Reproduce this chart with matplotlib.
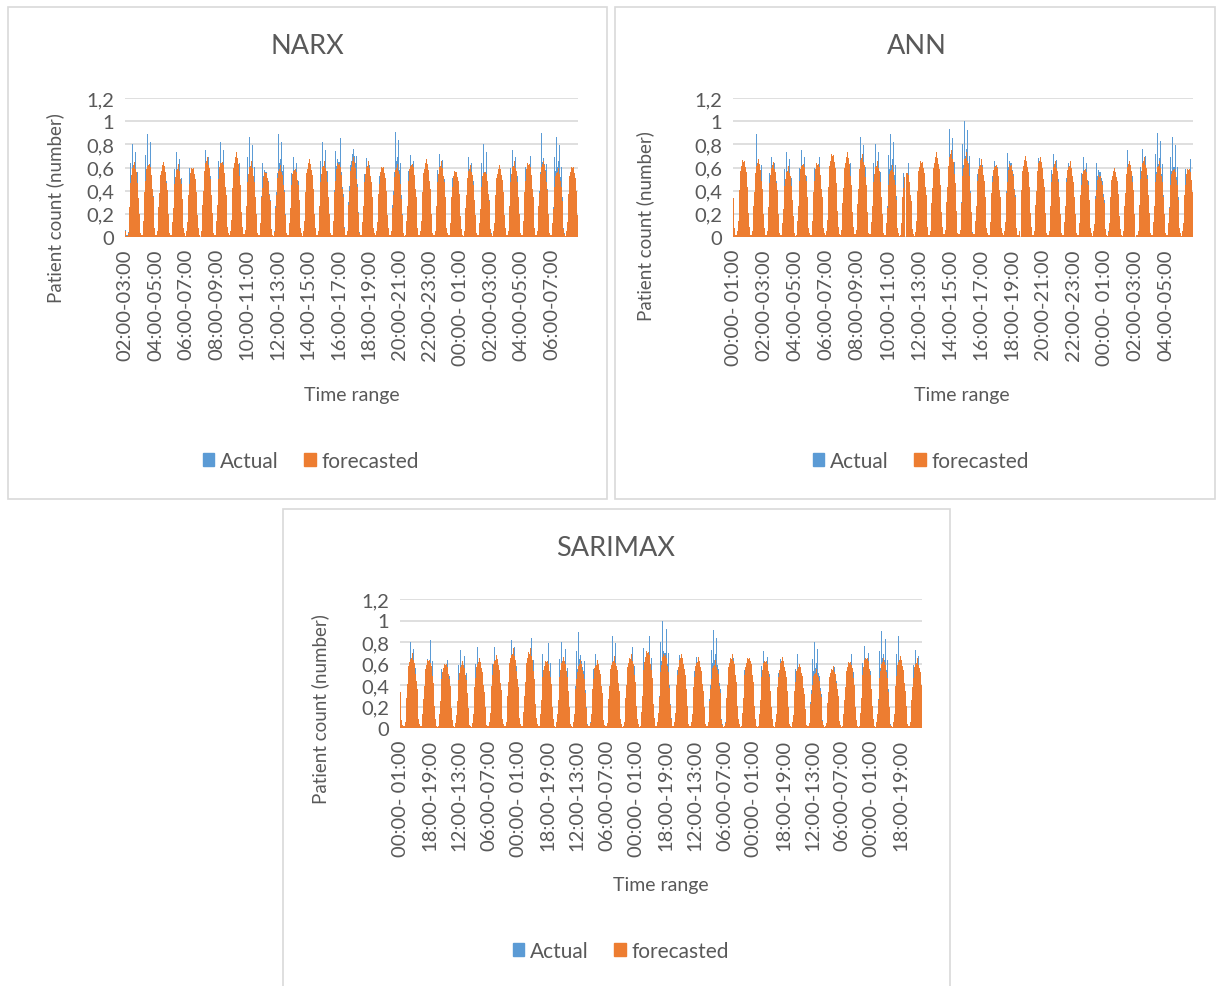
import numpy as np
import matplotlib.pyplot as plt
from matplotlib.patches import Rectangle, Patch

plt.rcParams['font.family'] = ['Lato', 'DejaVu Sans']

W, H = 1216, 987
N_HOURS = 744
TXT = '#595959'
BLUE = '#5B9BD5'
ORANGE = '#ED7D31'

# shape of one daily hump, hour 08:00 first (fraction of that day's max)
shape_forecast = [0.20, 0.40, 0.58, 0.72, 0.82, 0.88, 0.92, 0.95, 0.93, 1.00, 0.94, 0.90,
                  0.86, 0.80, 0.72, 0.62, 0.52, 0.30, 0.12, 0.05, 0.03, 0.02, 0.03, 0.08]
shape_actual = [0.14, 0.30, 0.44, 0.80, 0.62, 0.66, 1.00, 0.72, 0.70, 0.76, 0.70, 0.92,
                0.64, 0.60, 0.70, 0.46, 0.40, 0.22, 0.09, 0.04, 0.02, 0.01, 0.02, 0.06]

# daily max (first entry = partial day before the first 08:00)
actual_peaks = [0.66, 0.80, 0.89, 0.69, 0.73, 0.75, 0.75, 0.82, 0.91, 0.86, 0.80, 0.89,
                0.69, 0.86, 0.82, 0.93, 1.00, 0.68, 0.66, 0.91, 0.71, 0.68, 0.72, 0.64,
                0.69, 0.80, 0.62, 0.75, 0.76, 0.90, 0.86, 0.73]
narx_peaks = [0.40, 0.65, 0.67, 0.65, 0.63, 0.63, 0.69, 0.69, 0.73, 0.66, 0.59, 0.62,
              0.62, 0.67, 0.66, 0.67, 0.69, 0.66, 0.64, 0.63, 0.67, 0.67, 0.66, 0.60,
              0.62, 0.60, 0.62, 0.66, 0.67, 0.66, 0.60, 0.64]
ann_peaks = [0.65, 0.70, 0.67, 0.65, 0.61, 0.67, 0.67, 0.75, 0.73, 0.72, 0.66, 0.62,
             0.59, 0.69, 0.73, 0.75, 0.73, 0.67, 0.66, 0.66, 0.70, 0.69, 0.66, 0.66,
             0.62, 0.56, 0.60, 0.66, 0.69, 0.66, 0.62, 0.62]
sarimax_peaks = [0.65, 0.70, 0.67, 0.63, 0.62, 0.65, 0.68, 0.74, 0.74, 0.66, 0.66, 0.63,
                 0.63, 0.67, 0.69, 0.75, 0.72, 0.69, 0.66, 0.63, 0.69, 0.69, 0.66, 0.66,
                 0.60, 0.55, 0.58, 0.65, 0.69, 0.65, 0.67, 0.65]

narx_ticks = ["02:00-03:00", "04:00-05:00", "06:00-07:00", "08:00-09:00", "10:00-11:00",
              "12:00-13:00", "14:00-15:00", "16:00-17:00", "18:00-19:00", "20:00-21:00",
              "22:00-23:00", "00:00- 01:00", "02:00-03:00", "04:00-05:00", "06:00-07:00"]
ann_ticks = ["00:00- 01:00", "02:00-03:00", "04:00-05:00", "06:00-07:00", "08:00-09:00",
             "10:00-11:00", "12:00-13:00", "14:00-15:00", "16:00-17:00", "18:00-19:00",
             "20:00-21:00", "22:00-23:00", "00:00- 01:00", "02:00-03:00", "04:00-05:00"]
sarimax_ticks = ["00:00- 01:00", "18:00-19:00", "12:00-13:00", "06:00-07:00"] * 4 + \
                ["00:00- 01:00", "18:00-19:00"]

yticks = [0, 0.2, 0.4, 0.6, 0.8, 1.0, 1.2]
ylabels = ["0", "0,2", "0,4", "0,6", "0,8", "1", "1,2"]


def build(peaks, shape, start_hour):
    k = np.arange(N_HOURS) + start_hour - 8
    return np.array(peaks)[k // 24 + 1] * np.array(shape)[k % 24]


def fx(x):
    return x / W


def fy(y):
    return 1 - y / H


def panel(fig, box, area, title, title_xy, ylab_xy, xlab_xy, leg_xy,
          fc_peaks, start_hour, ticks, step):
    x0, y0, x1, y1 = box
    fig.patches.append(Rectangle((fx(x0), fy(y1)), fx(x1 - x0), (y1 - y0) / H,
                                 transform=fig.transFigure, fill=False,
                                 edgecolor='#d9d9d9', lw=1.2))
    l, t, r, b = area
    ax = fig.add_axes([fx(l), fy(b), fx(r - l), (b - t) / H])
    idx = np.arange(N_HOURS)
    act = build(actual_peaks, shape_actual, start_hour)
    fc = build(fc_peaks, shape_forecast, start_hour)
    ax.bar(idx, act, width=1.0, color=BLUE, linewidth=0, zorder=2)
    ax.bar(idx, fc, width=1.0, color=ORANGE, linewidth=0, zorder=3)
    ax.set_xlim(-0.5, N_HOURS - 0.5)
    ax.set_ylim(0, 1.2)
    ax.set_yticks(yticks)
    ax.set_yticklabels(ylabels, fontsize=14.5, color=TXT)
    ax.set_xticks(np.arange(len(ticks)) * step)
    ax.set_xticklabels(ticks, rotation=90, fontsize=14.5, color=TXT)
    ax.tick_params(length=0, pad=8)
    ax.grid(axis='y', color='#d9d9d9', lw=1.2, zorder=0)
    for s in ax.spines.values():
        s.set_visible(False)
    fig.text(fx(title_xy[0]), fy(title_xy[1]), title, fontsize=19.5, color=TXT,
             ha='center', va='center')
    fig.text(fx(ylab_xy[0]), fy(ylab_xy[1]), "Patient count (number)", fontsize=13.5,
             color=TXT, rotation=90, ha='center', va='center')
    fig.text(fx(xlab_xy[0]), fy(xlab_xy[1]), "Time range", fontsize=14, color=TXT,
             ha='center', va='center')
    handles = [Patch(color=BLUE, label='Actual'), Patch(color=ORANGE, label='forecasted')]
    fig.legend(handles=handles, loc='center', bbox_to_anchor=(fx(leg_xy[0]), fy(leg_xy[1])),
               ncol=2, frameon=False, fontsize=15, handlelength=0.55, handleheight=0.55,
               handletextpad=0.3, columnspacing=1.2, labelcolor=TXT)
    return ax


fig = plt.figure(figsize=(W / 100, H / 100), dpi=100)

panel(fig, (8, 8, 607, 500), (125, 99, 578, 238), "NARX", (307, 47), (55, 208),
      (352, 396), (311, 462), narx_peaks, 2, narx_ticks, 50)
panel(fig, (615, 8, 1215, 500), (733, 99, 1193, 238), "ANN", (917, 47), (645, 226),
      (962, 396), (921, 462), ann_peaks, 0, ann_ticks, 50)
panel(fig, (283, 510, 950, 995), (400, 600, 922, 729), "SARIMAX", (616, 548), (320, 709),
      (661, 886), (621, 952), sarimax_peaks, 0, sarimax_ticks, 42)

fig.savefig("out.png", dpi=100)
